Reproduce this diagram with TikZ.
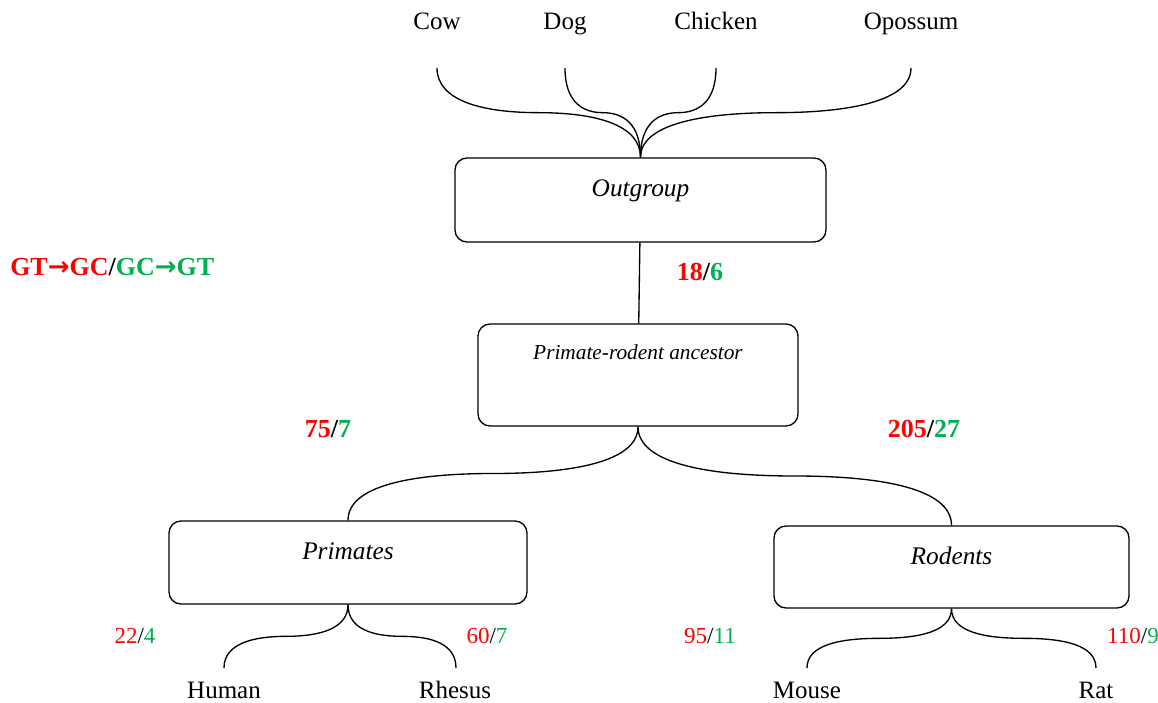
\documentclass[tikz,border=0pt]{standalone}
\usepackage{fontspec}
\setmainfont{Liberation Serif}
\newfontfamily\arrowfont{DejaVu Sans}
\usepackage{xcolor}
\usetikzlibrary{calc,positioning}
\definecolor{gcred}{RGB}{255,0,0}
\definecolor{gcgreen}{RGB}{0,176,80}

\begin{document}
\begin{tikzpicture}[x=0.75pt,y=-0.75pt,
  taxon/.style={anchor=base,inner sep=0pt,font=\fontsize{18.75}{22}\selectfont},
  cladebox/.style={draw,rounded corners=9pt,line width=1pt,inner sep=0pt},
  cladename/.style={anchor=base,inner sep=0pt,font=\fontsize{19}{23}\selectfont\itshape},
  count/.style={anchor=base,inner sep=0pt,font=\fontsize{17.25}{20}\selectfont},
  bigcount/.style={anchor=base,inner sep=0pt,font=\fontsize{19.5}{23}\selectfont\bfseries},
  branch/.style={line width=1pt}]
\path[use as bounding box] (0,0) rectangle (1158,703);

% clade boxes
\node[cladebox,minimum width=278.25pt,minimum height=63pt] (outgroup) at (640.5,200) {};
\node[cladebox,minimum width=240pt,minimum height=76.5pt] (ancestor) at (638,375) {};
\node[cladebox,minimum width=268.5pt,minimum height=62.25pt] (primates) at (348,562.5) {};
\node[cladebox,minimum width=266.25pt,minimum height=61.5pt] (rodents) at (951.5,567) {};

% box titles
\node[cladename] (outgroup-t) at ($(outgroup.north)+(0,39)$) {Outgroup};
\node[cladename,font=\fontsize{16}{19}\selectfont\itshape] (ancestor-t) at ($(ancestor.north)+(0,36)$) {Primate-rodent ancestor};
\node[cladename] (primates-t) at ($(primates.north)+(0,39)$) {Primates};
\node[cladename] (rodents-t) at ($(rodents.north)+(0,39)$) {Rodents};

% species
\node[taxon] (cow) at (437,30) {Cow};
\node[taxon] (dog) at (565,30) {Dog};
\node[taxon] (chicken) at (716,30) {Chicken};
\node[taxon] (opossum) at (911,30) {Opossum};
\node[taxon] (human) at (224,698) {Human};
\node[taxon] (rhesus) at (455,698) {Rhesus};
\node[taxon] (mouse) at (807,698) {Mouse};
\node[taxon] (rat) at (1096,698) {Rat};

% branch ends
\coordinate (cow-e) at (437,68);
\coordinate (dog-e) at (565,68);
\coordinate (chicken-e) at (716,68);
\coordinate (opossum-e) at (911,68);
\coordinate (human-e) at (224,668);
\coordinate (rhesus-e) at (456,668);
\coordinate (mouse-e) at (807,668);
\coordinate (rat-e) at (1096,668);

% outgroup branches
\draw[branch] (cow-e) .. controls +(0,33) and +(-56,0) .. ($(cow-e)!0.5!(outgroup.north)$) .. controls +(56,0) and +(0,-33) .. (outgroup.north);
\draw[branch] (dog-e) .. controls +(0,33) and +(-21,0) .. ($(dog-e)!0.5!(outgroup.north)$) .. controls +(21,0) and +(0,-33) .. (outgroup.north);
\draw[branch] (chicken-e) .. controls +(0,33) and +(21,0) .. ($(chicken-e)!0.5!(outgroup.north)$) .. controls +(-21,0) and +(0,-33) .. (outgroup.north);
\draw[branch] (opossum-e) .. controls +(0,33) and +(74,0) .. ($(opossum-e)!0.5!(outgroup.north)$) .. controls +(-74,0) and +(0,-33) .. (outgroup.north);

\draw[branch] (outgroup) -- (ancestor);

% primate / rodent split
\draw[branch] (ancestor.south) .. controls +(0,35) and +(80,0) .. ($(ancestor.south)!0.5!(primates.north)$) .. controls +(-80,0) and +(0,-35) .. (primates.north);
\draw[branch] (ancestor.south) .. controls +(0,37) and +(-86,0) .. ($(ancestor.south)!0.5!(rodents.north)$) .. controls +(86,0) and +(0,-37) .. (rodents.north);

% leaves
\draw[branch] (primates.south) .. controls +(0,24) and +(34,0) .. ($(primates.south)!0.5!(human-e)$) .. controls +(-34,0) and +(0,-24) .. (human-e);
\draw[branch] (primates.south) .. controls +(0,24) and +(-30,0) .. ($(primates.south)!0.5!(rhesus-e)$) .. controls +(30,0) and +(0,-24) .. (rhesus-e);
\draw[branch] (rodents.south) .. controls +(0,23) and +(40,0) .. ($(rodents.south)!0.5!(mouse-e)$) .. controls +(-40,0) and +(0,-23) .. (mouse-e);
\draw[branch] (rodents.south) .. controls +(0,23) and +(-40,0) .. ($(rodents.south)!0.5!(rat-e)$) .. controls +(40,0) and +(0,-23) .. (rat-e);

% counts
\node[bigcount,anchor=base west] (legend) at (10,275) {\textcolor{gcred}{GT{\arrowfont →}GC}/\textcolor{gcgreen}{GC{\arrowfont →}GT}};
\node[bigcount] (n-outgroup) at (700,280) {\textcolor{gcred}{18}/\textcolor{gcgreen}{6}};
\node[bigcount] (n-primates) at (328,437) {\textcolor{gcred}{75}/\textcolor{gcgreen}{7}};
\node[bigcount] (n-rodents) at (924,437) {\textcolor{gcred}{205}/\textcolor{gcgreen}{27}};
\node[count] (n-human) at (135,643) {\textcolor{gcred}{22}/\textcolor{gcgreen}{4}};
\node[count] (n-rhesus) at (487,643) {\textcolor{gcred}{60}/\textcolor{gcgreen}{7}};
\node[count] (n-mouse) at (710,643) {\textcolor{gcred}{95}/\textcolor{gcgreen}{11}};
\node[count] (n-rat) at (1133,643) {\textcolor{gcred}{110}/\textcolor{gcgreen}{9}};

\end{tikzpicture}
\end{document}
